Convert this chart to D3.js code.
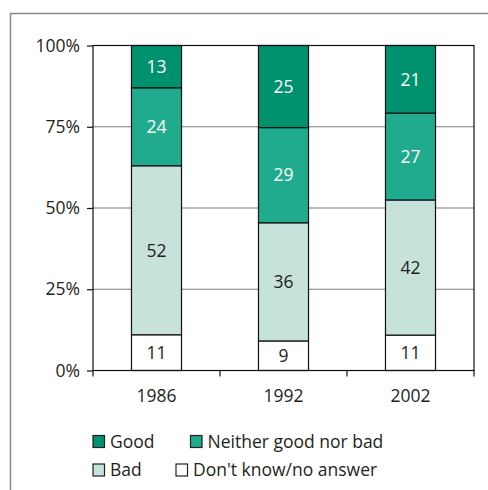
<!DOCTYPE html>
<html>
<head>
<meta charset="utf-8">
<script src="https://cdn.jsdelivr.net/npm/d3@7"></script>
<style>
  html, body { margin: 0; padding: 0; background: #fff; overflow: hidden; }
  svg { display: block; }
  text { font-family: "Open Sans", "Noto Sans", sans-serif; fill: #231f20; }
</style>
</head>
<body>
<svg id="chart"></svg>
<script>
// categories and values (percent), bottom to top in each bar
let years = ['1986', '1992', '2002']
let dontKnow = [11, 9, 11]
let bad = [52, 36, 42]
let neither = [24, 29, 27]
let good = [13, 25, 21]
let yTicks = [0, 25, 50, 75, 100]

let seriesKeys = ['dk', 'bad', 'neither', 'good']
let seriesNames = {
  good: 'Good',
  neither: 'Neither good nor bad',
  bad: 'Bad',
  dk: "Don't know/no answer",
}
let colors = { good: '#00916e', neither: '#21ab8e', bad: '#c6e2da', dk: '#ffffff' }
let textColors = { good: '#ffffff', neither: '#ffffff', bad: '#231f20', dk: '#231f20' }

let fontSize = '17.5px'

// rows for d3.stack
let rows = years.map((y, i) => ({
  year: y,
  dk: dontKnow[i],
  bad: bad[i],
  neither: neither[i],
  good: good[i],
}))

let outerWidth = 488
let outerHeight = 490
let margins = { top: 45.5, left: 93, right: 14, bottom: 119.5 }
let innerWidth = outerWidth - margins.left - margins.right
let innerHeight = outerHeight - margins.top - margins.bottom

let svg = d3.select('svg#chart').attr('width', outerWidth).attr('height', outerHeight)

// outer frame (open at right and bottom, cropped)
svg.append('path')
  .attr('d', 'M10.5,' + (outerHeight + 2) + ' V13.5 H' + (outerWidth + 2))
  .attr('fill', 'none')
  .attr('stroke', '#8a8a8a')
  .attr('stroke-width', 1.5)

let inner = svg.append('g')
  .attr('transform', 'translate(' + margins.left + ',' + margins.top + ')')

let xScale = d3.scaleBand()
  .domain(years)
  .range([0, innerWidth])
  .paddingInner(0.606)
  .paddingOuter(0.303)

let yScale = d3.scaleLinear().domain([0, 1]).range([innerHeight, 0])

// gridlines
inner.selectAll('line.grid')
  .data(yTicks.filter(t => t > 0 && t < 100))
  .join('line')
  .attr('class', 'grid')
  .attr('x1', 0)
  .attr('x2', innerWidth)
  .attr('y1', d => yScale(d / 100))
  .attr('y2', d => yScale(d / 100))
  .attr('stroke', '#7a7a7a')
  .attr('stroke-width', 1.2)

// each stack is scaled to 100%
let stacked = d3.stack().keys(seriesKeys).offset(d3.stackOffsetExpand)(rows)

let layers = inner.selectAll('g.layer')
  .data(stacked)
  .join('g')
  .attr('class', 'layer')

layers.selectAll('rect')
  .data(s => s.map(d => ({ key: s.key, d: d })))
  .join('rect')
  .attr('x', p => xScale(p.d.data.year))
  .attr('width', xScale.bandwidth())
  .attr('y', p => yScale(p.d[1]))
  .attr('height', p => yScale(p.d[0]) - yScale(p.d[1]))
  .attr('fill', p => colors[p.key])
  .attr('stroke', '#111')
  .attr('stroke-width', 1.2)

layers.selectAll('text')
  .data(s => s.map(d => ({ key: s.key, d: d })))
  .join('text')
  .attr('x', p => xScale(p.d.data.year) + xScale.bandwidth() / 2)
  .attr('y', p => (yScale(p.d[0]) + yScale(p.d[1])) / 2)
  .attr('dy', '0.36em')
  .attr('text-anchor', 'middle')
  .style('font-size', fontSize)
  .style('fill', p => textColors[p.key])
  .text(p => p.d.data[p.key])

// plot border
inner.append('rect')
  .attr('width', innerWidth)
  .attr('height', innerHeight)
  .attr('fill', 'none')
  .attr('stroke', '#111')
  .attr('stroke-width', 1.2)

// y axis
let yAxis = d3.axisLeft(yScale)
  .tickValues(yTicks.map(t => t / 100))
  .tickSize(6)
  .tickPadding(7)
  .tickFormat(d => Math.round(d * 100) + '%')
let gy = inner.append('g').call(yAxis)
gy.select('.domain').remove()
gy.selectAll('line').attr('stroke', '#111').attr('stroke-width', 1.2)
gy.selectAll('text')
  .style('font-size', fontSize)
  .style('font-family', '"Open Sans", sans-serif')
  .attr('fill', '#231f20')

// x axis: ticks at band boundaries, labels at centers
let step = xScale.step()
let boundaries = d3.range(years.length + 1).map(i => i * step)
inner.selectAll('line.xtick')
  .data(boundaries)
  .join('line')
  .attr('class', 'xtick')
  .attr('x1', d => d)
  .attr('x2', d => d)
  .attr('y1', innerHeight)
  .attr('y2', innerHeight + 6)
  .attr('stroke', '#111')
  .attr('stroke-width', 1.2)

inner.selectAll('text.xlabel')
  .data(years)
  .join('text')
  .attr('class', 'xlabel')
  .attr('x', d => xScale(d) + xScale.bandwidth() / 2)
  .attr('y', innerHeight + 31)
  .attr('text-anchor', 'middle')
  .style('font-size', fontSize)
  .text(d => d)

// legend
let legendItems = [
  { key: 'good', x: 93, y: 441.5 },
  { key: 'neither', x: 190.5, y: 441.5 },
  { key: 'bad', x: 93, y: 470 },
  { key: 'dk', x: 176, y: 470 },
]
let legend = svg.selectAll('g.legend')
  .data(legendItems)
  .join('g')
  .attr('class', 'legend')
  .attr('transform', d => 'translate(' + d.x + ',' + d.y + ')')

legend.append('rect')
  .attr('x', 0)
  .attr('y', -6)
  .attr('width', 11.5)
  .attr('height', 12)
  .attr('fill', d => colors[d.key])
  .attr('stroke', '#222')
  .attr('stroke-width', 1.2)

legend.append('text')
  .attr('x', 17)
  .attr('dy', '0.36em')
  .style('font-size', fontSize)
  .text(d => seriesNames[d.key])
</script>
</body>
</html>
